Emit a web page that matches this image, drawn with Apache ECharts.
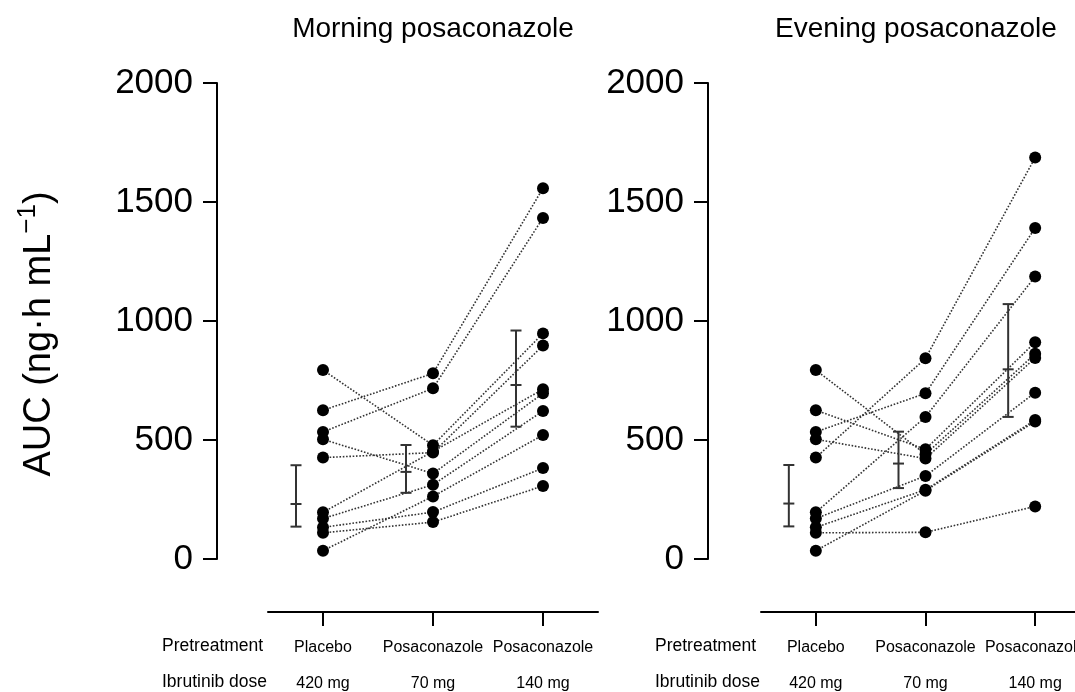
<!DOCTYPE html>
<html>
<head>
<meta charset="utf-8">
<script src="https://cdn.jsdelivr.net/npm/echarts@6/dist/echarts.min.js"></script>
<style>html,body{margin:0;padding:0;background:#fff}#c{width:1075px;height:692px}</style>
</head>
<body>
<div id="c"></div>
<script>
// ---- data ----
var pretreatment = ['Placebo', 'Posaconazole', 'Posaconazole'];
var ibrutinibDose = ['420 mg', '70 mg', '140 mg'];
var yTicks = [0, 500, 1000, 1500, 2000];

// Morning posaconazole: per subject (same order in each array)
var morningPlacebo = [625, 534, 794, 426, 196, 503, 170, 35, 133, 110];
var morning70 = [780, 717, 478, 447, 452, 359, 312, 263, 197, 155];
var morning140 = [1558, 1433, 948, 897, 713, 696, 622, 521, 382, 307];
var morningMean = [231, 366, 731];
var morningLow = [136, 278, 556];
var morningHigh = [394, 479, 960];

// Evening posaconazole
var eveningPlacebo = [426, 534, 196, 794, 625, 503, 170, 133, 35, 110];
var evening70 = [843, 696, 597, 440, 461, 422, 349, 291, 287, 112];
var evening140 = [1687, 1391, 1187, 862, 911, 845, 699, 584, 578, 221];
var eveningMean = [233, 401, 797];
var eveningLow = [137, 298, 597];
var eveningHigh = [395, 535, 1071];

var FONT = 'Liberation Sans, Arial, sans-serif';

var catLabels = pretreatment.map(function (p, i) { return p + '\n' + ibrutinibDose[i]; });

function xAx(idx) {
  return {
    type: 'category', gridIndex: idx, data: catLabels, boundaryGap: true, offset: 53,
    axisLine: { show: true, onZero: false, lineStyle: { color: '#000', width: 2 } },
    axisTick: { show: true, alignWithLabel: true, length: 14, lineStyle: { color: '#000', width: 2 } },
    axisLabel: { interval: 0, margin: 18, lineHeight: 36, fontSize: 16, fontFamily: FONT, color: '#000', hideOverlap: false },
    splitLine: { show: false }
  };
}
function yAx(idx, off) {
  return {
    type: 'value', gridIndex: idx, min: yTicks[0], max: yTicks[yTicks.length - 1], interval: yTicks[1] - yTicks[0], offset: off,
    axisLine: { show: true, onZero: false, lineStyle: { color: '#000', width: 2 } },
    axisTick: { show: true, length: 14, lineStyle: { color: '#000', width: 2 } },
    axisLabel: { margin: 24, fontSize: 35, fontFamily: FONT, color: '#000', formatter: function (v) { return String(v); } },
    splitLine: { show: false }
  };
}

function subjectLines(idx, a, b, c) {
  return a.map(function (v, i) {
    return {
      type: 'line', xAxisIndex: idx, yAxisIndex: idx, data: [a[i], b[i], c[i]],
      showSymbol: false, silent: true, z: 2, animation: false,
      lineStyle: { color: '#333', width: 1.6, type: [1.6, 1.7], opacity: 1 }
    };
  });
}
function points(idx, a, b, c) {
  var d = [];
  [a, b, c].forEach(function (arr, k) { arr.forEach(function (v) { d.push([k, v]); }); });
  return { type: 'scatter', xAxisIndex: idx, yAxisIndex: idx, data: d, symbol: 'circle', symbolSize: 12,
    itemStyle: { color: '#000', opacity: 1 }, z: 5, silent: true, animation: false };
}
function errorBars(idx, mean, low, high) {
  var d = mean.map(function (m, i) { return [i, m, low[i], high[i]]; });
  return {
    type: 'custom', xAxisIndex: idx, yAxisIndex: idx, data: d, z: 4, silent: true, animation: false,
    renderItem: function (params, api) {
      var pm = api.coord([api.value(0), api.value(1)]);
      var pl = api.coord([api.value(0), api.value(2)]);
      var ph = api.coord([api.value(0), api.value(3)]);
      var x = pm[0] - 27, hw = 5.5;
      var st = { stroke: '#333', lineWidth: 2 };
      return { type: 'group', children: [
        { type: 'line', shape: { x1: x, y1: pl[1], x2: x, y2: ph[1] }, style: st },
        { type: 'line', shape: { x1: x - hw, y1: pl[1], x2: x + hw, y2: pl[1] }, style: st },
        { type: 'line', shape: { x1: x - hw, y1: ph[1], x2: x + hw, y2: ph[1] }, style: st },
        { type: 'line', shape: { x1: x - hw, y1: pm[1], x2: x + hw, y2: pm[1] }, style: st }
      ] };
    }
  };
}

var series = []
  .concat(subjectLines(0, morningPlacebo, morning70, morning140))
  .concat([points(0, morningPlacebo, morning70, morning140), errorBars(0, morningMean, morningLow, morningHigh)])
  .concat(subjectLines(1, eveningPlacebo, evening70, evening140))
  .concat([points(1, eveningPlacebo, evening70, evening140), errorBars(1, eveningMean, eveningLow, eveningHigh)]);

function txt(x, y, s, size, fam, align) {
  return { type: 'text', x: x, y: y, silent: true,
    style: { text: s, fontSize: size, fontFamily: fam, fill: '#000', align: align || 'left', verticalAlign: 'middle' } };
}

var chart = echarts.init(document.getElementById('c'), null, { renderer: 'canvas' });
chart.setOption({
  animation: false,
  backgroundColor: '#fff',
  grid: [
    { left: 268, top: 83, width: 330, height: 476, outerBoundsMode: 'none', containLabel: false },
    { left: 761, top: 83, width: 329, height: 476, outerBoundsMode: 'none', containLabel: false }
  ],
  xAxis: [xAx(0), xAx(1)],
  yAxis: [yAx(0, 51), yAx(1, 53)],
  series: series,
  graphic: [
    txt(433, 29, 'Morning posaconazole', 28, FONT, 'center'),
    txt(916, 29, 'Evening posaconazole', 28, FONT, 'center'),
    txt(162, 646, 'Pretreatment', 17.5, FONT),
    txt(162, 682, 'Ibrutinib dose', 17.5, FONT),
    txt(655, 646, 'Pretreatment', 17.5, FONT),
    txt(655, 682, 'Ibrutinib dose', 17.5, FONT),
    { type: 'text', x: 37, y: 334, rotation: Math.PI / 2, silent: true,
      style: { text: '{a|AUC (ng·h mL}{s|−1}{a|)}', align: 'center', verticalAlign: 'middle', fill: '#000',
        rich: { a: { fontSize: 38, fontFamily: FONT, lineHeight: 44, verticalAlign: 'bottom', fill: '#000' },
                s: { fontSize: 26, fontFamily: FONT, lineHeight: 44, verticalAlign: 'top', fill: '#000' } } } }
  ]
});
</script>
</body>
</html>
